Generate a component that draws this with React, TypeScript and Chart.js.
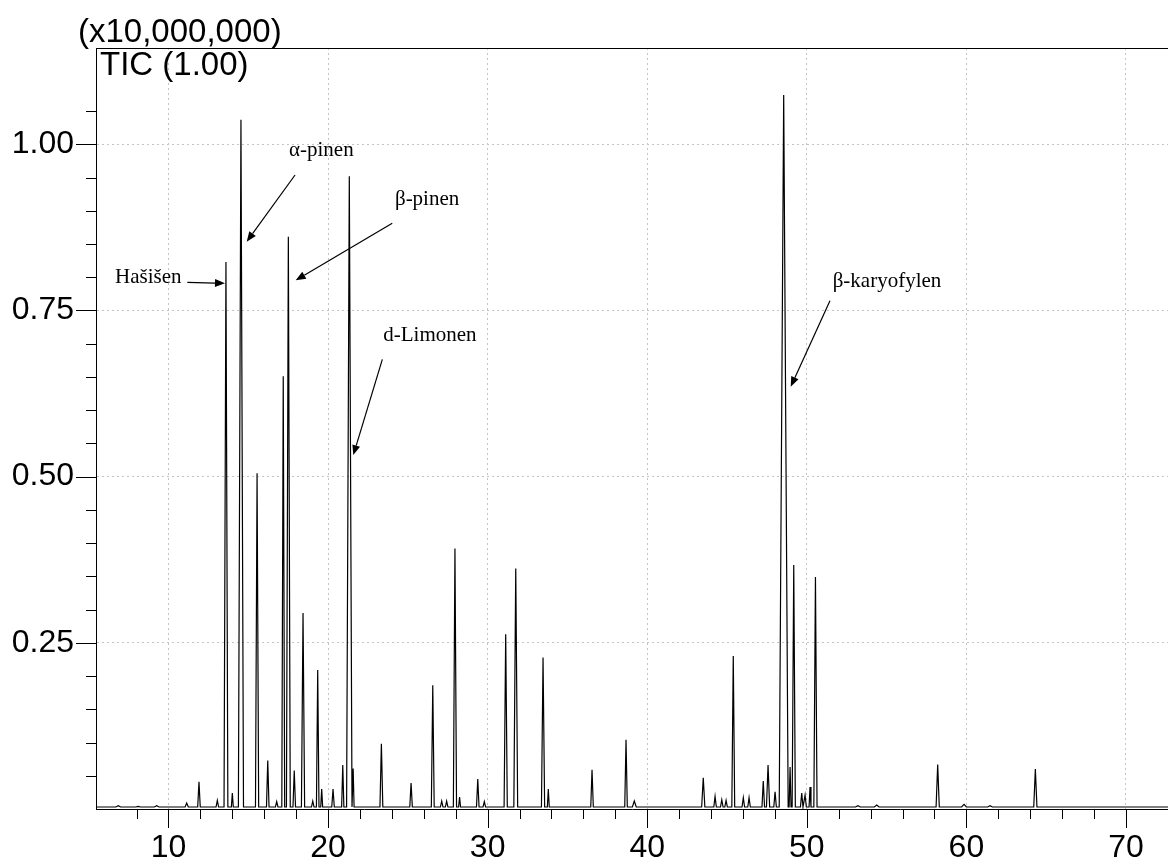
import { useEffect, useRef } from "react";
import { Chart, registerables } from "chart.js";

Chart.register(...registerables);

// Axis ranges (retention time in minutes, intensity x10,000,000)
const X_MIN = 5.457;
const X_MAX = 72.632;
const Y_MAX = 1.1449;
const BASELINE = 0.003;

// Peak table
const peakTimes = [
  6.85, 8.1, 9.26, 11.14, 11.91, 13.06, 13.6, 14.0, 14.54, 15.55, 16.22, 16.78,
  17.19, 17.51, 17.88, 18.43, 19.04, 19.35, 19.6, 20.31, 20.92, 21.33, 21.57,
  23.34, 25.2, 26.56, 27.12, 27.43, 27.95, 28.24, 29.38, 29.79, 31.13, 31.76,
  33.47, 33.8, 36.54, 38.67, 39.19, 43.51, 44.25, 44.67, 44.94, 45.39, 46.02,
  46.38, 47.27, 47.57, 48.01, 48.55, 48.95, 49.18, 49.68, 49.89, 50.2, 50.54,
  53.2, 54.38, 58.2, 59.85, 61.48, 64.32,
];
const peakHeights = [
  0.005, 0.004, 0.005, 0.009, 0.041, 0.013, 0.823, 0.024, 1.037, 0.505, 0.073, 0.011,
  0.651, 0.861, 0.058, 0.295, 0.012, 0.209, 0.03, 0.03, 0.066, 0.952, 0.061,
  0.098, 0.039, 0.186, 0.012, 0.012, 0.392, 0.018, 0.045, 0.011, 0.263, 0.362,
  0.228, 0.03, 0.059, 0.104, 0.012, 0.047, 0.019, 0.014, 0.013, 0.23, 0.017,
  0.017, 0.042, 0.066, 0.026, 1.074, 0.063, 0.367, 0.024, 0.021, 0.033, 0.349,
  0.005, 0.006, 0.067, 0.007, 0.005, 0.06,
];
const peakHalfWidths = [
  0.15, 0.15, 0.15, 0.1, 0.08, 0.08, 0.12, 0.06, 0.16, 0.1, 0.08, 0.08,
  0.09, 0.12, 0.08, 0.1, 0.08, 0.08, 0.06, 0.08, 0.07, 0.17, 0.06,
  0.09, 0.08, 0.09, 0.08, 0.08, 0.1, 0.06, 0.08, 0.08, 0.1, 0.12,
  0.1, 0.06, 0.08, 0.08, 0.12, 0.1, 0.08, 0.08, 0.08, 0.09, 0.08,
  0.08, 0.08, 0.1, 0.08, 0.28, 0.06, 0.1, 0.08, 0.08, 0.06, 0.1,
  0.15, 0.15, 0.1, 0.15, 0.15, 0.1,
];

// Annotations (data coordinates)
const annotationLabels = ["Hašišen", "α-pinen", "β-pinen", "d-Limonen", "β-karyofylen"];
const annotationTextX = [6.647, 17.551, 24.19, 23.46, 51.62];
const annotationTextY = [0.7908, 0.9823, 0.9086, 0.7044, 0.7857];
const arrowFromX = [11.18, 17.93, 24.02, 23.4, 51.45];
const arrowFromY = [0.7923, 0.9538, 0.8811, 0.6765, 0.7646];
const arrowToX = [13.54, 14.9, 17.97, 21.58, 48.99];
const arrowToY = [0.7908, 0.8534, 0.7953, 0.5324, 0.6352];

const UNIT_LABEL = "(x10,000,000)";
const TRACE_LABEL = "TIC (1.00)";

const isMult = (v: number, m: number) => Math.abs(v / m - Math.round(v / m)) < 1e-6;

function buildTrace() {
  const pts: { x: number; y: number }[] = [{ x: X_MIN, y: BASELINE }];
  peakTimes.forEach((t, i) => {
    const w = peakHalfWidths[i];
    pts.push({ x: t - w, y: BASELINE }, { x: t, y: peakHeights[i] }, { x: t + w, y: BASELINE });
  });
  pts.push({ x: X_MAX, y: BASELINE });
  return pts;
}

const decorPlugin = {
  id: "decor",
  afterDatasetsDraw(chart: any) {
    const { ctx, scales } = chart;
    const xs = scales.x;
    const ys = scales.y;
    ctx.save();
    ctx.fillStyle = "#000";
    ctx.strokeStyle = "#000";
    ctx.font = '21px "Liberation Serif", "Times New Roman", serif';
    ctx.textBaseline = "alphabetic";
    ctx.textAlign = "left";
    annotationLabels.forEach((lab, i) => {
      ctx.fillText(lab, xs.getPixelForValue(annotationTextX[i]), ys.getPixelForValue(annotationTextY[i]));
      const x1 = xs.getPixelForValue(arrowFromX[i]);
      const y1 = ys.getPixelForValue(arrowFromY[i]);
      const x2 = xs.getPixelForValue(arrowToX[i]);
      const y2 = ys.getPixelForValue(arrowToY[i]);
      const ang = Math.atan2(y2 - y1, x2 - x1);
      const len = 10;
      const hw = 4;
      const bx = x2 - len * Math.cos(ang);
      const by = y2 - len * Math.sin(ang);
      ctx.lineWidth = 1.2;
      ctx.beginPath();
      ctx.moveTo(x1, y1);
      ctx.lineTo(bx, by);
      ctx.stroke();
      ctx.beginPath();
      ctx.moveTo(x2, y2);
      ctx.lineTo(bx + hw * Math.sin(ang), by - hw * Math.cos(ang));
      ctx.lineTo(bx - hw * Math.sin(ang), by + hw * Math.cos(ang));
      ctx.closePath();
      ctx.fill();
    });
    ctx.restore();
  },
  afterDraw(chart: any) {
    const { ctx, chartArea, scales } = chart;
    const xs = scales.x;
    const ys = scales.y;
    ctx.save();
    ctx.strokeStyle = "#000";
    ctx.lineWidth = 1;
    xs.ticks.forEach((t: any) => {
      const v = t.value;
      if (!isMult(v, 2)) return;
      const px = Math.round(xs.getPixelForValue(v)) + 0.5;
      const len = isMult(v, 10) ? 19 : 10;
      ctx.beginPath();
      ctx.moveTo(px, chartArea.bottom);
      ctx.lineTo(px, chartArea.bottom + len);
      ctx.stroke();
    });
    ys.ticks.forEach((t: any) => {
      const v = t.value;
      if (!isMult(v, 0.05) || v <= 0) return;
      const py = Math.round(ys.getPixelForValue(v)) + 0.5;
      const len = isMult(v, 0.25) ? 20 : 10;
      ctx.beginPath();
      ctx.moveTo(chartArea.left - len, py);
      ctx.lineTo(chartArea.left, py);
      ctx.stroke();
    });
    ctx.beginPath();
    ctx.moveTo(chartArea.left, Math.round(chartArea.top) + 0.5);
    ctx.lineTo(chartArea.right, Math.round(chartArea.top) + 0.5);
    ctx.stroke();
    ctx.fillStyle = "#000";
    ctx.font = '33px "Liberation Sans", Arial, sans-serif';
    ctx.textBaseline = "alphabetic";
    ctx.textAlign = "left";
    ctx.fillText(UNIT_LABEL, 78, 42);
    ctx.fillText(TRACE_LABEL, chartArea.left + 4, chartArea.top + 27);
    ctx.restore();
  },
};

export default function App() {
  const ref = useRef<HTMLCanvasElement | null>(null);
  useEffect(() => {
    document.body.style.margin = "0";
    const canvas = ref.current;
    if (!canvas) return;
    const gridColor = (c: any, m: number) =>
      c.tick && isMult(c.tick.value, m) && c.tick.value > 0 ? "#c4c4c4" : "rgba(0,0,0,0)";
    const chart = new Chart(canvas, {
      type: "scatter",
      data: {
        datasets: [
          {
            data: buildTrace(),
            showLine: true,
            borderColor: "#000",
            borderWidth: 1.2,
            pointRadius: 0,
            tension: 0,
            fill: false,
          },
        ],
      },
      options: {
        responsive: false,
        animation: false,
        layout: { padding: { top: 48, left: 0, right: 0, bottom: 0 } },
        plugins: { legend: { display: false }, tooltip: { enabled: false }, title: { display: false } },
        scales: {
          x: {
            type: "linear",
            min: X_MIN,
            max: X_MAX,
            afterFit: (s: any) => {
              s.height = 57;
              s.paddingLeft = 0;
              s.paddingRight = 0;
            },
            ticks: {
              stepSize: 2,
              autoSkip: false,
              maxRotation: 0,
              padding: 20,
              color: "#000",
              font: { family: '"Liberation Sans", Arial, sans-serif', size: 32 },
              callback: (v: any) => (isMult(Number(v), 10) ? String(Math.round(Number(v))) : ""),
            },
            grid: { drawTicks: false, color: (c: any) => gridColor(c, 10), lineWidth: 1 },
            border: { display: true, color: "#000", width: 1, dash: [2, 3] },
          },
          y: {
            type: "linear",
            min: 0,
            max: Y_MAX,
            afterFit: (s: any) => {
              s.width = 96;
              s.paddingTop = 0;
              s.paddingBottom = 0;
            },
            ticks: {
              stepSize: 0.05,
              autoSkip: false,
              padding: 22,
              color: "#000",
              font: { family: '"Liberation Sans", Arial, sans-serif', size: 32 },
              callback: (v: any) => {
                const n = Number(v);
                return isMult(n, 0.25) && n > 0 && n < 1.1 ? n.toFixed(2) : "";
              },
            },
            grid: { drawTicks: false, color: (c: any) => gridColor(c, 0.25), lineWidth: 1 },
            border: { display: true, color: "#000", width: 1, dash: [2, 3] },
          },
        },
      },
      plugins: [decorPlugin],
    });
    return () => chart.destroy();
  }, []);
  return (
    <div style={{ position: "absolute", left: 0, top: 0, width: 1168, height: 866 }}>
      <canvas ref={ref} width={1168} height={866} style={{ display: "block" }} />
    </div>
  );
}
